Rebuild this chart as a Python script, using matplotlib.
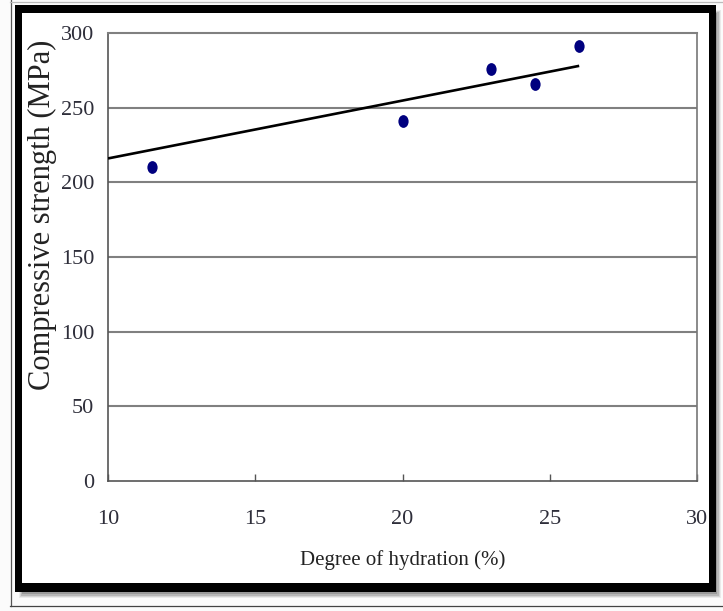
import matplotlib
matplotlib.use('Agg')
import matplotlib.pyplot as plt
from matplotlib.patches import Rectangle
from matplotlib.lines import Line2D
from matplotlib.path import Path
from matplotlib.transforms import Affine2D

# ---- data ----
hydration = [11.5, 20, 23, 24.5, 26]
strength = [210, 241, 276, 266, 291]
trend_x = [10, 26]
trend_y = [216, 278]
x_ticks = [10, 15, 20, 25, 30]
y_ticks = [0, 50, 100, 150, 200, 250, 300]
x_label = "Degree of hydration (%)"
y_label = "Compressive strength (MPa)"

W, H = 723, 611
plt.rcParams['font.family'] = ['Liberation Serif', 'DejaVu Serif']
fig = plt.figure(figsize=(W / 100, H / 100), dpi=100, facecolor='white')


def rect(x0, y0, x1, y1, color, z, alpha=1.0):
    fig.add_artist(Rectangle((x0 / W, 1 - y1 / H), (x1 - x0) / W, (y1 - y0) / H,
                             transform=fig.transFigure, facecolor=color,
                             edgecolor='none', zorder=z, alpha=alpha))


def hline(y, x0, x1, color, lw):
    fig.add_artist(Line2D([x0 / W, x1 / W], [1 - y / H, 1 - y / H],
                          transform=fig.transFigure, color=color, lw=lw, zorder=-10))


def vline(x, y0, y1, color, lw):
    fig.add_artist(Line2D([x / W, x / W], [1 - y0 / H, 1 - y1 / H],
                          transform=fig.transFigure, color=color, lw=lw, zorder=-10))


# background watermark tint
rect(0, 0, W, H, '#fbfbfb', -20)
# thin outer border lines
vline(10.5, 0, 606, '#555555', 0.9)
hline(1.5, 10, W, '#bbbbbb', 0.9)
hline(605.5, 10, W, '#444444', 0.9)
# shadow
for i, a in enumerate([0.10, 0.15, 0.22, 0.3]):
    rect(19 + i, 10 + i, 721 - i * 1.2, 598 - i * 1.2, '#555555', -9, a)
# thick black frame
rect(15, 5, 716, 592, 'black', -6)
rect(22, 13, 709, 583, 'white', -5)

# ---- axes ----
ax = fig.add_axes([108 / W, 1 - 481 / H, 589 / W, 448 / H])
ax.set_facecolor('white')
ax.set_xlim(10, 30)
ax.set_ylim(0, 300)
ax.set_xticks(x_ticks)
ax.set_yticks(y_ticks)
ax.set_xticklabels([str(v) for v in x_ticks])
ax.set_yticklabels([str(v) for v in y_ticks])

for yv in y_ticks[1:-1]:
    ax.axhline(yv, color='#808080', lw=1.5, zorder=1)

ax.spines['left'].set_color('#555555')
ax.spines['bottom'].set_color('#555555')
ax.spines['right'].set_color('#777777')
ax.spines['top'].set_color('#808080')
ax.spines['left'].set_linewidth(1.2)
ax.spines['bottom'].set_linewidth(1.2)
ax.spines['right'].set_linewidth(1.2)
ax.spines['top'].set_linewidth(1.5)

ax.tick_params(axis='x', direction='in', length=5, width=1.0, color='#555555',
               pad=21, labelsize=16, labelcolor='#2e2e3a')
ax.tick_params(axis='y', length=0, pad=10, labelsize=16, labelcolor='#2e2e3a')

# trend line
ax.plot(trend_x, trend_y, color='black', lw=1.9, zorder=3, solid_capstyle='butt')

# ellipse markers
ell = Path.unit_circle().transformed(Affine2D().scale(0.8, 1.0))
ax.plot(hydration, strength, linestyle='none', marker=ell, markersize=9.2,
        color='#00007f', markeredgewidth=0, zorder=4)

ax.set_xlabel(x_label, fontsize=15, color='#222222')
ax.set_ylabel(y_label, fontsize=22, color='#222222')
ax.xaxis.label.set_va('center')
ax.yaxis.label.set_va('center')
ax.xaxis.set_label_coords(0.5, -0.176)
ax.yaxis.set_label_coords(-0.112, 0.594)

fig.savefig('out.png', dpi=100, facecolor=fig.get_facecolor())
